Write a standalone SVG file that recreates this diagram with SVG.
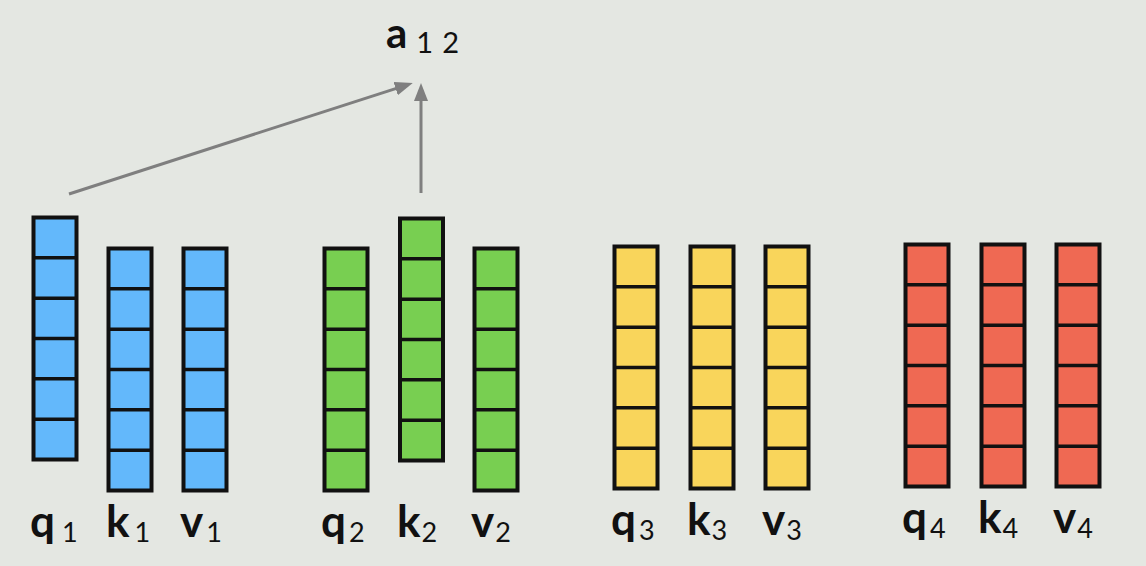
<svg xmlns="http://www.w3.org/2000/svg" xmlns:xlink="http://www.w3.org/1999/xlink" width="1146" height="566" viewBox="0 0 1146 566">
  <style>
    .blue { fill: #63b8fb; }
    .green { fill: #78cf51; }
    .yellow { fill: #f9d55b; }
    .red { fill: #ef6953; }
    .lbl { font-family: "Lato", "DejaVu Sans", sans-serif; font-size: 44px; font-weight: 700; fill: #111; }
    .sub { font-size: 27px; font-weight: 400; }
    .title { font-family: "Lato", "DejaVu Sans", sans-serif; font-size: 42px; font-weight: 700; fill: #111; }
    .tsub { font-size: 29px; font-weight: 400; }
    .conn { stroke: #7f7f7f; stroke-width: 3; fill: none; }
  </style>
  <defs>
    <marker id="arrow" markerUnits="userSpaceOnUse" markerWidth="18" markerHeight="14" refX="13" refY="7" orient="auto">
      <path d="M0,0 L18,7 L0,14 z" fill="#7f7f7f"/>
    </marker>
    <g id="col" stroke="#111" stroke-width="4">
      <rect x="0" y="0" width="43" height="242"/>
      <line x1="0" y1="40.33" x2="43" y2="40.33" stroke-width="3.5"/>
      <line x1="0" y1="80.67" x2="43" y2="80.67" stroke-width="3.5"/>
      <line x1="0" y1="121" x2="43" y2="121" stroke-width="3.5"/>
      <line x1="0" y1="161.33" x2="43" y2="161.33" stroke-width="3.5"/>
      <line x1="0" y1="201.67" x2="43" y2="201.67" stroke-width="3.5"/>
    </g>
  </defs>
  <rect width="1146" height="566" fill="#e4e7e2"/>

  <g id="connectors">
    <line class="conn" x1="69" y1="194" x2="408" y2="84.6" marker-end="url(#arrow)"/>
    <line class="conn" x1="421" y1="193" x2="421" y2="88" marker-end="url(#arrow)"/>
  </g>

  <g id="a12">
    <text class="title" x="386" y="48">a<tspan class="tsub" dx="9" dy="5">1</tspan><tspan class="tsub" dx="9">2</tspan></text>
  </g>

  <g id="q1"><use xlink:href="#col" href="#col" class="blue" x="33.5" y="217.5"/><text class="lbl" x="30" y="537">q<tspan class="sub" dx="7" dy="5">1</tspan></text></g>
  <g id="k1"><use xlink:href="#col" href="#col" class="blue" x="108.5" y="248.5"/><text class="lbl" x="106" y="537">k<tspan class="sub" dx="5" dy="5">1</tspan></text></g>
  <g id="v1"><use xlink:href="#col" href="#col" class="blue" x="183.5" y="248.5"/><text class="lbl" x="180" y="537">v<tspan class="sub" dx="3" dy="5">1</tspan></text></g>

  <g id="q2"><use xlink:href="#col" href="#col" class="green" x="324.5" y="248.5"/><text class="lbl" x="321" y="537">q<tspan class="sub" dx="3" dy="5">2</tspan></text></g>
  <g id="k2"><use xlink:href="#col" href="#col" class="green" x="400" y="218.5"/><text class="lbl" x="397" y="537">k<tspan class="sub" dx="1" dy="5">2</tspan></text></g>
  <g id="v2"><use xlink:href="#col" href="#col" class="green" x="474.5" y="248.5"/><text class="lbl" x="471" y="537">v<tspan class="sub" dx="1" dy="5">2</tspan></text></g>

  <g id="q3"><use xlink:href="#col" href="#col" class="yellow" x="614.5" y="246.5"/><text class="lbl" x="611" y="535">q<tspan class="sub" dx="3" dy="5">3</tspan></text></g>
  <g id="k3"><use xlink:href="#col" href="#col" class="yellow" x="690.5" y="246.5"/><text class="lbl" x="687" y="535">k<tspan class="sub" dx="1" dy="5">3</tspan></text></g>
  <g id="v3"><use xlink:href="#col" href="#col" class="yellow" x="765.5" y="246.5"/><text class="lbl" x="762" y="535">v<tspan class="sub" dx="1" dy="5">3</tspan></text></g>

  <g id="q4"><use xlink:href="#col" href="#col" class="red" x="905.5" y="244.5"/><text class="lbl" x="902" y="533">q<tspan class="sub" dx="3" dy="5">4</tspan></text></g>
  <g id="k4"><use xlink:href="#col" href="#col" class="red" x="981.5" y="244.5"/><text class="lbl" x="978" y="533">k<tspan class="sub" dx="1" dy="5">4</tspan></text></g>
  <g id="v4"><use xlink:href="#col" href="#col" class="red" x="1056.5" y="244.5"/><text class="lbl" x="1053" y="533">v<tspan class="sub" dx="1" dy="5">4</tspan></text></g>
</svg>
